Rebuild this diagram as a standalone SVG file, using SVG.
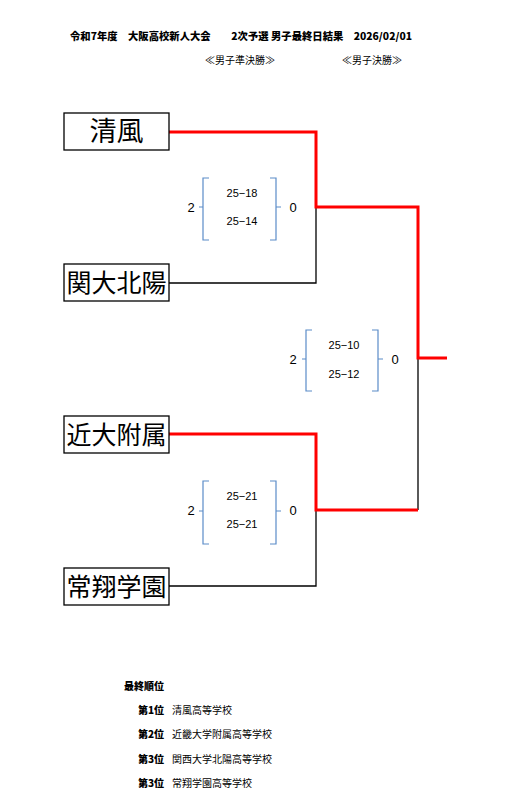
<svg xmlns="http://www.w3.org/2000/svg" width="510" height="808" viewBox="0 0 510 808">
<style>
text{font-family:"Noto Sans CJK JP","Noto Sans CJK SC",sans-serif;fill:#000}
.title{font-size:10px;font-weight:900}
.sub{font-size:10px}
.box{fill:#fff;stroke:#000;stroke-width:1.3}
.team{font-size:25px;text-anchor:middle}
.win{fill:none;stroke:#ff0000;stroke-width:3}
.lose{fill:none;stroke:#000;stroke-width:1.3}
.br{fill:none;stroke:#5b8cc8;stroke-width:1.2}
.score{font-size:11px;text-anchor:middle;font-family:"Liberation Sans",sans-serif}
.set{font-size:13px;text-anchor:middle;font-family:"Liberation Sans",sans-serif}
.rk{font-size:10px}
.rkb{font-size:10px;font-weight:900}
</style>
<text class="title" x="70" y="40" textLength="342" lengthAdjust="spacingAndGlyphs">令和7年度　大阪高校新人大会　　2次予選 男子最終日結果　2026/02/01</text>
<text class="sub" x="205" y="64">≪男子準決勝≫</text>
<text class="sub" x="342" y="64">≪男子決勝≫</text>
<g id="connectors">
<polyline class="lose" points="169,283 316,283 316,207"/>
<polyline class="lose" points="169,586 316,586 316,510"/>
<polyline class="lose" points="418,359 418,510"/>
<polyline class="win" points="169,132 316,132 316,207 418,207 418,358 447,358"/>
<polyline class="win" points="169,434 316,434 316,510 418,510"/>
</g>
<g id="n1"><rect class="box" x="64" y="113" width="105" height="37"/><text class="team" x="116.5" y="141" style="font-size:27px">清風</text></g>
<g id="n2"><rect class="box" x="64" y="264" width="105" height="37"/><text class="team" x="116.5" y="292">関大北陽</text></g>
<g id="n3"><rect class="box" x="64" y="416" width="105" height="37"/><text class="team" x="116.5" y="444">近大附属</text></g>
<g id="n4"><rect class="box" x="64" y="568" width="105" height="37"/><text class="team" x="116.5" y="596">常翔学園</text></g>
<g id="m1">
<path class="br" d="M209,178 H203 V240 H209 M203,207 H199 M270,178 H276 V240 H270 M276,207 H281"/>
<text class="set" x="191" y="212">2</text><text class="set" x="293" y="212">0</text>
<text class="score" x="242" y="197">25−18</text><text class="score" x="242" y="225">25−14</text>
</g>
<g id="m2">
<path class="br" d="M312,330 H306 V391 H312 M306,359 H302 M372,330 H378 V391 H372 M378,359 H383"/>
<text class="set" x="293" y="364">2</text><text class="set" x="395" y="364">0</text>
<text class="score" x="344" y="349">25−10</text><text class="score" x="344" y="378">25−12</text>
</g>
<g id="m3">
<path class="br" d="M209,481 H203 V544 H209 M203,511 H199 M270,481 H276 V544 H270 M276,511 H281"/>
<text class="set" x="191" y="515">2</text><text class="set" x="293" y="515">0</text>
<text class="score" x="242" y="500">25−21</text><text class="score" x="242" y="528">25−21</text>
</g>
<g id="ranking">
<text class="rkb" x="124" y="690">最終順位</text>
<text class="rkb" x="138" y="714">第1位</text><text class="rk" x="172" y="714">清風高等学校</text>
<text class="rkb" x="138" y="738">第2位</text><text class="rk" x="172" y="738">近畿大学附属高等学校</text>
<text class="rkb" x="138" y="763">第3位</text><text class="rk" x="172" y="763">関西大学北陽高等学校</text>
<text class="rkb" x="138" y="787">第3位</text><text class="rk" x="172" y="787">常翔学園高等学校</text>
</g>
</svg>
